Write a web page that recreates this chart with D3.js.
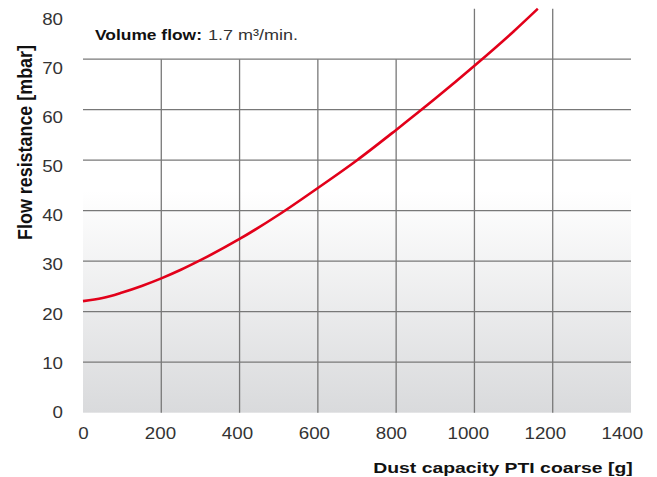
<!DOCTYPE html>
<html><head><meta charset="utf-8">
<script src="https://cdn.jsdelivr.net/npm/d3@7"></script>
<style>body{margin:0;background:#fff}svg{display:block}text{font-family:"Liberation Sans",Arial,Helvetica,sans-serif}</style>
</head><body><svg id="c" width="657" height="477"></svg>
<script>
const dustCapacity = [0, 50, 100, 150, 200, 250, 300, 400, 500, 600, 700, 800, 900, 1000, 1100, 1162];
const flowResistance = [22.1, 22.7, 23.8, 25.1, 26.6, 28.3, 30.2, 34.4, 39.2, 44.5, 50.0, 56.0, 62.2, 68.7, 75.5, 80.0];
const xTicks = [0, 200, 400, 600, 800, 1000, 1200, 1400];
const yTicks = [0, 10, 20, 30, 40, 50, 60, 70, 80];
const xTitle = "Dust capacity PTI coarse [g]";
const yTitle = "Flow resistance [mbar]";
const legendBold = "Volume flow:";
const legendText = "1.7 m³/min.";

const svg = d3.select("#c");
const x = d3.scaleLinear().domain([0, 1400]).range([83, 631]);
const y = d3.scaleLinear().domain([0, 80]).range([412.7, 8.7]);
const xLab = d3.scaleLinear().domain([0, 1400]).range([83, 621.8]);
const yLab = d3.scaleLinear().domain([0, 80]).range([411.9, 19.5]);

const defs = svg.append("defs");
const g = defs.append("linearGradient").attr("id","bg").attr("x1",0).attr("y1",0).attr("x2",0).attr("y2",1);
g.append("stop").attr("offset","0.45").attr("stop-color","#ffffff");
g.append("stop").attr("offset","1").attr("stop-color","#d9dadc");
svg.append("rect").attr("x",x(0)).attr("y",y(80)).attr("width",x(1400)-x(0)).attr("height",y(0)-y(80)).attr("fill","url(#bg)");

const grid = svg.append("g").attr("stroke","#787878").attr("stroke-width",1.3);
grid.selectAll("line.h").data(yTicks.filter(v=>v>0 && v<80)).join("line")
  .attr("x1",x(0)).attr("x2",x(1400)).attr("y1",d=>y(d)).attr("y2",d=>y(d));
grid.selectAll("line.v").data(xTicks.filter(v=>v>0 && v<1400)).join("line")
  .attr("x1",d=>x(d)).attr("x2",d=>x(d)).attr("y1",d=>d>=1000?y(80):y(70)).attr("y2",y(0));

const tickScale = 1.15, tickFont = 16.3;
const xAxis = d3.axisBottom(xLab).tickValues(xTicks).tickSize(0).tickPadding(14.5).tickFormat(d3.format("d"));
const xa = svg.append("g").attr("transform",`translate(0,${y(0)})`).call(xAxis);
xa.select(".domain").remove();
xa.selectAll("text").attr("font-size",tickFont).attr("fill","#333").attr("font-family","Liberation Sans, Arial, sans-serif")
  .attr("transform",`scale(${tickScale},1)`);

const yAxis = d3.axisLeft(yLab).tickValues(yTicks).tickSize(0).tickPadding(20).tickFormat(d3.format("d"));
const ya = svg.append("g").attr("transform",`translate(${x(0)},0)`).call(yAxis);
ya.select(".domain").remove();
ya.selectAll("text").attr("font-size",tickFont).attr("fill","#333").attr("font-family","Liberation Sans, Arial, sans-serif")
  .attr("x",-20/tickScale).attr("transform",`scale(${tickScale},1)`);

const line = d3.line().x((d,i)=>x(dustCapacity[i])).y(d=>y(d)).curve(d3.curveMonotoneX);
svg.append("path").datum(flowResistance).attr("d",line).attr("fill","none").attr("stroke","#e2001a").attr("stroke-width",2.6);

svg.append("text").attr("transform","translate(632.7,472.5) scale(1.31,1)").attr("text-anchor","end").attr("font-weight","bold").attr("font-size",14.8).attr("fill","#111").text(xTitle);
svg.append("text").attr("transform","translate(32.3,142.5) scale(1.35,1.17) rotate(-90)").attr("text-anchor","middle").attr("font-weight","bold").attr("font-size",15.3).attr("fill","#111").text(yTitle);

svg.append("text").attr("transform","translate(95,40) scale(1.13,1)").attr("font-size",15.4).attr("font-weight","bold").attr("fill","#111").text(legendBold);
svg.append("text").attr("transform","translate(208,40) scale(1.17,1)").attr("font-size",15.4).attr("fill","#333").text(legendText);
</script></body></html>
